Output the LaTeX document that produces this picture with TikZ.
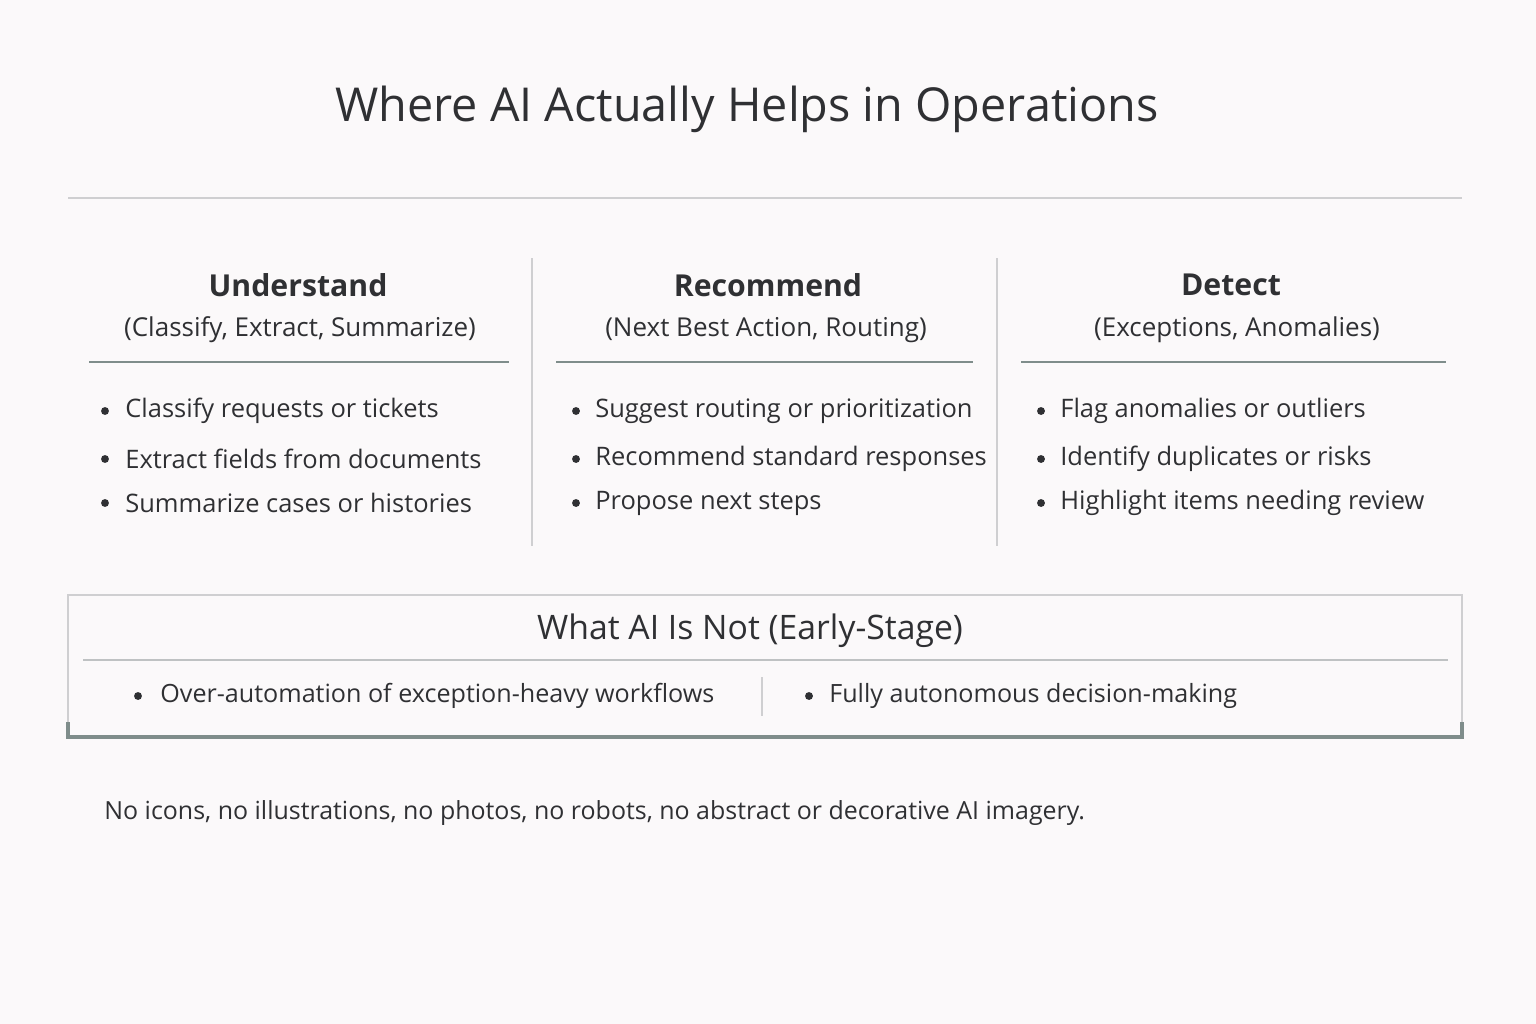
\documentclass[tikz,border=0pt]{standalone}
\usepackage{fontspec}
\setmainfont{Open Sans}
\usetikzlibrary{positioning}
\definecolor{bgwhite}{HTML}{FBF9FA}
\definecolor{inkdark}{HTML}{2F3033}
\definecolor{rulegreen}{HTML}{7F8D8B}
\definecolor{lightrule}{HTML}{CFCFD1}

\tikzset{
  heading/.style={text=inkdark, font=\fontsize{17.2}{20}\selectfont\bfseries},
  subhead/.style={text=inkdark, font=\fontsize{14.8}{18}\selectfont},
  item/.style={text=inkdark, font=\fontsize{14.5}{18}\selectfont, anchor=west, inner sep=0pt},
  dot/.style={circle, fill=inkdark, inner sep=0pt, minimum size=4.5pt},
  headrule/.style={rulegreen, line width=1.2pt},
  sep/.style={lightrule, line width=0.8pt}
}

\begin{document}
\begin{tikzpicture}[x=0.02cm, y=-0.02cm]
    % Canvas
    \fill[bgwhite] (0,0) rectangle (1536,1024);
    \useasboundingbox (0,0) rectangle (1536,1024);

    % Title
    \node[text=inkdark, font=\fontsize{26.6}{31}\selectfont] (title) at (747,109) {Where AI Actually Helps in Operations};
    \draw[sep] (68,198) -- (1462,198);

    % Column separators
    \draw[sep] (532,258) -- (532,546);
    \draw[sep] (997,258) -- (997,546);

    % Column heads
    \node[heading] (understand) at (298,285) {Understand};
    \node[subhead] (understandsub) at (300,330) {(Classify, Extract, Summarize)};
    \draw[headrule] (89,362) -- (509,362);

    \node[heading] (recommend) at (768,285) {Recommend};
    \node[subhead] (recommendsub) at (766,330) {(Next Best Action, Routing)};
    \draw[headrule] (556,362) -- (973,362);

    \node[heading] (detect) at (1231,285) {Detect};
    \node[subhead] (detectsub) at (1237,330) {(Exceptions, Anomalies)};
    \draw[headrule] (1021,362) -- (1446,362);

    % Bullet lists
    \foreach \t [count=\i] in {Classify requests or tickets, Extract fields from documents, Summarize cases or histories}{
        \pgfmathsetmacro{\yy}{\i==1 ? 411 : (\i==2 ? 459 : 503)}
        \node[dot] at (105,\yy) {};
        \node[item] at (125,\yy) {\t};
    }
    \foreach \t [count=\i] in {Suggest routing or prioritization, Recommend standard responses, Propose next steps}{
        \pgfmathsetmacro{\yy}{\i==1 ? 411 : (\i==2 ? 459 : 503)}
        \node[dot] at (576,\yy) {};
        \node[item] at (595,\yy) {\t};
    }
    \foreach \t [count=\i] in {Flag anomalies or outliers, Identify duplicates or risks, Highlight items needing review}{
        \pgfmathsetmacro{\yy}{\i==1 ? 411 : (\i==2 ? 459 : 503)}
        \node[dot] at (1041,\yy) {};
        \node[item] at (1060,\yy) {\t};
    }

    % Bottom box
    \draw[lightrule, line width=0.8pt] (68,737) -- (68,595) -- (1462,595) -- (1462,737);
    \draw[rulegreen, line width=2.2pt] (68,722) -- (68,737) -- (1462,737) -- (1462,722);
    \node[text=inkdark, font=\fontsize{19.2}{23}\selectfont] (notai) at (750,631) {What AI Is Not (Early-Stage)};
    \draw[lightrule!80!rulegreen, line width=0.9pt] (83,660) -- (1448,660);
    \draw[sep] (762,677) -- (762,716);
    \node[dot] at (138,696) {};
    \node[item, font=\fontsize{14.3}{18}\selectfont] (overauto) at (160,696) {Over-automation of exception-heavy workflows};
    \node[dot] at (809,696) {};
    \node[item, font=\fontsize{14.3}{18}\selectfont] (autonomous) at (829,696) {Fully autonomous decision-making};

    % Footer note
    \node[item, font=\fontsize{14.2}{18}\selectfont] (note) at (104,813) {No icons, no illustrations, no photos, no robots, no abstract or decorative AI imagery.};
\end{tikzpicture}
\end{document}
